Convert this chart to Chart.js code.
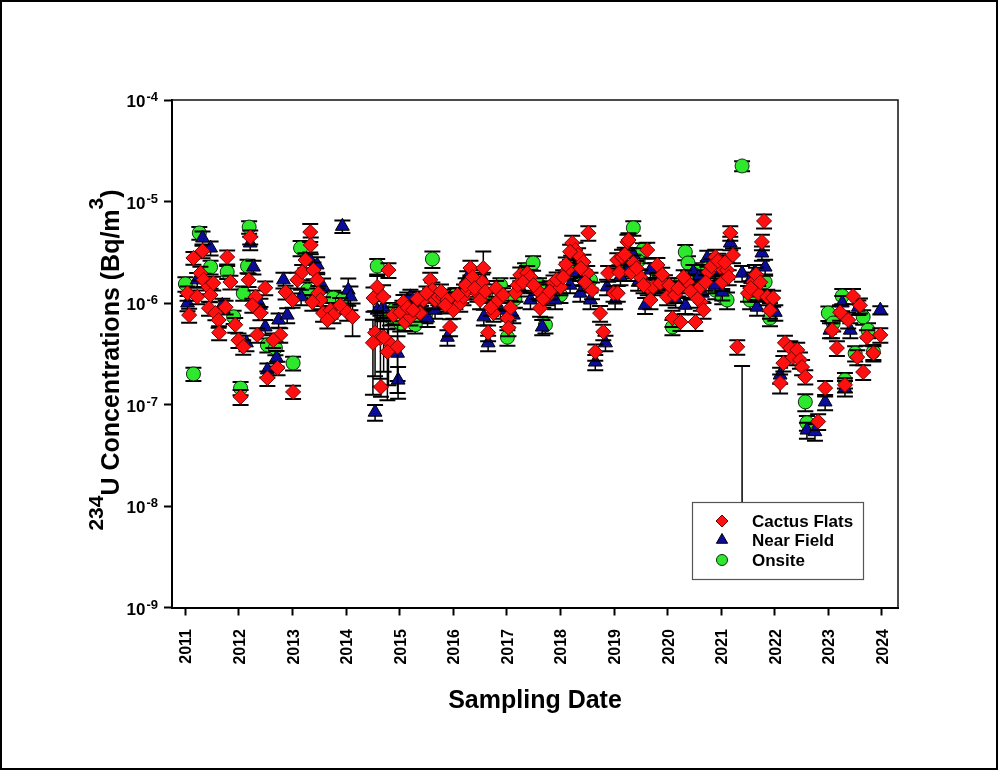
<!DOCTYPE html>
<html>
<head>
<meta charset="utf-8">
<script src="https://cdn.jsdelivr.net/npm/chart.js@4.4.0/dist/chart.umd.min.js"></script>
<style>
  html, body { margin: 0; padding: 0; background: #fff; }
  canvas { display: block; }
</style>
</head>
<body>
<canvas id="uChart" width="999" height="771"></canvas>
<script>
// tick values
const yearTicks = [2011, 2012, 2013, 2014, 2015, 2016, 2017, 2018, 2019, 2020, 2021, 2022, 2023, 2024];
const powerTicks = [1e-9, 1e-8, 1e-7, 1e-6, 1e-5, 1e-4];

// Cactus Flats (red diamonds)
const cactusDates = [
  2011.04, 2011.07, 2011.15, 2011.22, 2011.28, 2011.32, 2011.34, 2011.43, 2011.44, 2011.47,
  2011.52, 2011.56, 2011.62, 2011.63, 2011.75, 2011.78, 2011.84, 2011.93, 2011.99, 2012.08, 2012.03,
  2012.21, 2012.18, 2012.31, 2012.25, 2012.40, 2012.34, 2012.49, 2012.53, 2012.72, 2012.77, 2012.64, 2012.87, 2013.00, 2013.01,
  2013.09, 2013.33, 2013.34, 2013.24, 2013.18, 2013.39, 2013.46, 2013.48, 2013.52, 2013.37, 2013.57, 2013.71, 2013.89, 2014.02, 2014.12, 2013.76, 2013.65,
  2014.51, 2014.58, 2014.69, 2014.54, 2014.64, 2014.79, 2014.96, 2014.50, 2014.65, 2014.79, 2014.70, 2014.77,
  2014.88, 2015.01, 2015.10, 2015.20, 2015.07, 2015.38, 2015.44, 2015.57, 2015.61, 2015.66, 2015.72, 2015.81, 2015.89, 2015.94,
  2016.00, 2016.13, 2016.19, 2016.26, 2016.32, 2016.45, 2016.50, 2016.56, 2016.54, 2016.65, 2016.75, 2016.84,
  2017.01, 2017.03, 2017.16, 2017.25, 2017.38, 2017.44, 2017.57, 2017.62, 2017.75, 2017.87,
  2018.00, 2018.13, 2018.22, 2018.28, 2018.33, 2018.43, 2018.50, 2018.52, 2018.59, 2018.74, 2018.80, 2018.65,
  2018.89, 2018.99, 2019.06, 2019.15, 2019.25, 2019.27, 2019.36, 2019.49, 2019.62, 2019.63, 2019.68, 2019.73, 2019.81, 2019.86, 2019.07,
  2019.99, 2020.09, 2020.24, 2020.37, 2020.52, 2020.61, 2020.62, 2020.67, 2020.76, 2020.89, 2020.98,
  2021.02, 2021.11, 2021.17, 2021.22, 2021.30, 2021.39, 2021.50, 2021.60, 2021.69, 2021.76, 2021.80, 2021.86, 2021.97, 2021.91,
  2022.10, 2022.16, 2022.19, 2022.29, 2022.34, 2022.42, 2022.47, 2022.51, 2022.57, 2022.81, 2022.94,
  2023.31, 2023.07, 2023.16, 2023.22, 2023.37, 2023.46, 2023.59, 2023.72, 2023.54, 2023.65, 2023.84, 2023.97,
  2015.15, 2015.25, 2015.33, 2015.50, 2015.77, 2015.85, 2016.08, 2016.23, 2016.36, 2016.40, 2016.60, 2016.70, 2016.80, 2016.93,
  2017.07, 2017.20, 2017.30, 2017.50, 2017.68, 2017.80, 2017.93, 2018.05, 2018.10, 2018.18, 2018.38, 2018.46,
  2019.10, 2019.20, 2019.32, 2019.42, 2019.55, 2019.90, 2020.03, 2020.14, 2020.20, 2020.30, 2020.43, 2020.56, 2020.71, 2020.82, 2020.94, 2021.07, 2021.14, 2021.55, 2021.65, 2021.73
];
const cactusValues = [
  1.25e-6, 7.6e-7, 2.78e-6, 1.15e-6, 1.97e-6, 3.26e-6, 1.69e-6, 1.44e-6, 8.9e-7, 1.2e-6,
  1.57e-6, 7.95e-7, 6.8e-7, 5.1e-7, 9.1e-7, 2.84e-6, 1.61e-6, 6.1e-7, 4.3e-7, 3.7e-7, 1.19e-7,
  4.47e-6, 1.69e-6, 1.15e-6, 9.5e-7, 7.95e-7, 4.85e-7, 1.41e-6, 1.82e-7, 2.29e-7, 4.85e-7, 4.3e-7, 1.28e-6, 1.07e-6, 1.33e-7,
  1.69e-6, 5.0e-6, 3.73e-6, 2.65e-6, 2.02e-6, 2.11e-6, 1.69e-6, 1.25e-6, 1.07e-6, 1.02e-6, 7.95e-7, 8.5e-7, 9.5e-7, 8.1e-7, 7.3e-7, 7.6e-7, 6.8e-7,
  1.12e-6, 1.44e-6, 1.15e-6, 5.1e-7, 4.5e-7, 4.15e-7, 3.7e-7, 4.05e-7, 1.49e-7, 2.11e-6, 4.6e-7, 3.3e-7,
  7.6e-7, 8.1e-7, 6.5e-7, 7.3e-7, 1.02e-6, 7.95e-7, 1.07e-6, 1.69e-6, 1.34e-6, 1.07e-6, 1.15e-6, 1.15e-6, 1.07e-6, 5.8e-7,
  8.5e-7, 1.0e-6, 1.15e-6, 1.34e-6, 2.21e-6, 1.25e-6, 1.07e-6, 2.21e-6, 1.61e-6, 5.1e-7, 7.95e-7, 1.07e-6,
  7.1e-7, 5.7e-7, 1.25e-6, 1.89e-6, 1.97e-6, 1.8e-6, 1.34e-6, 8.9e-7, 1.15e-6, 1.57e-6,
  1.44e-6, 2.11e-6, 3.9e-6, 3.33e-6, 2.97e-6, 2.53e-6, 1.97e-6, 4.9e-6, 1.34e-6, 7.95e-7, 5.2e-7, 3.3e-7,
  1.97e-6, 1.25e-6, 2.65e-6, 2.84e-6, 4.0e-6, 4.18e-6, 2.48e-6, 1.8e-6, 3.33e-6, 1.44e-6, 1.07e-6, 1.44e-6, 2.37e-6, 1.57e-6, 1.25e-6,
  1.15e-6, 7.1e-7, 6.5e-7, 1.61e-6, 6.5e-7, 1.44e-6, 1.02e-6, 8.5e-7, 2.02e-6, 2.84e-6, 2.26e-6,
  1.61e-6, 2.11e-6, 4.9e-6, 2.97e-6, 3.7e-7, 4.6e-9, 1.25e-6, 1.61e-6, 1.25e-6, 4.0e-6, 6.43e-6, 1.15e-6, 1.12e-6, 8.5e-7,
  1.63e-7, 2.56e-7, 4.05e-7, 3.6e-7, 2.93e-7, 3.45e-7, 2.75e-7, 2.34e-7, 1.87e-7, 6.8e-8, 1.45e-7,
  1.56e-7, 5.4e-7, 3.6e-7, 8.1e-7, 6.8e-7, 1.17e-6, 9.5e-7, 4.6e-7, 2.93e-7, 2.09e-7, 3.2e-7, 4.85e-7,
  9.0e-7, 8.5e-7, 1.1e-6, 1.25e-6, 1.3e-6, 9.5e-7, 1.2e-6, 1.5e-6, 1.8e-6, 1.4e-6, 1.3e-6, 9.0e-7, 1.4e-6, 1.2e-6,
  9.0e-7, 1.5e-6, 1.6e-6, 1.5e-6, 1.1e-6, 1.3e-6, 1.7e-6, 1.8e-6, 2.4e-6, 3.2e-6, 2.2e-6, 1.6e-6,
  2.0e-6, 3.0e-6, 2.0e-6, 2.2e-6, 1.5e-6, 1.9e-6, 1.5e-6, 1.2e-6, 1.4e-6, 1.8e-6, 1.3e-6, 1.1e-6, 1.6e-6, 2.3e-6, 2.6e-6, 2.5e-6, 1.8e-6, 1.4e-6, 1.9e-6, 1.6e-6
];
const cactusErrors = [
  0.2e-6, 1.2e-7, 0.4e-6, 0.18e-6, 0.3e-6, 0.5e-6, 0.25e-6, 0.22e-6, 1.4e-7, 0.18e-6,
  0.24e-6, 1.2e-7, 1.1e-7, 0.8e-7, 1.4e-7, 0.45e-6, 0.25e-6, 1.0e-7, 0.7e-7, 0.6e-7, 0.2e-7,
  0.7e-6, 0.25e-6, 0.18e-6, 1.5e-7, 1.2e-7, 0.8e-7, 0.22e-6, 0.3e-7, 0.35e-7, 0.8e-7, 0.7e-7, 0.2e-6, 0.17e-6, 0.2e-7,
  0.3e-6, 1.0e-6, 0.7e-6, 0.45e-6, 0.35e-6, 0.4e-6, 0.3e-6, 0.22e-6, 0.2e-6, 0.18e-6, 1.4e-7, 1.5e-7, 1.7e-7, 1.4e-7, 2.6e-7, 1.3e-7, 1.2e-7,
  0.3e-6, 0.4e-6, 0.35e-6, 3.2e-7, 3.0e-7, 2.6e-7, 2.4e-7, 2.8e-7, 0.3e-7, 0.35e-6, 2.5e-7, 2.2e-7,
  1.5e-7, 1.5e-7, 1.2e-7, 1.3e-7, 0.18e-6, 1.4e-7, 0.2e-6, 0.3e-6, 0.25e-6, 0.2e-6, 0.2e-6, 0.2e-6, 0.2e-6, 1.1e-7,
  1.5e-7, 0.18e-6, 0.2e-6, 0.25e-6, 0.4e-6, 0.22e-6, 0.2e-6, 1.0e-6, 0.3e-6, 0.9e-7, 1.4e-7, 0.2e-6,
  1.3e-7, 1.0e-7, 0.22e-6, 0.35e-6, 0.35e-6, 0.3e-6, 0.25e-6, 1.6e-7, 0.2e-6, 0.3e-6,
  0.25e-6, 0.4e-6, 0.7e-6, 0.6e-6, 0.5e-6, 0.45e-6, 0.35e-6, 0.8e-6, 0.25e-6, 1.4e-7, 0.9e-7, 0.6e-7,
  0.35e-6, 0.22e-6, 0.45e-6, 0.5e-6, 0.7e-6, 0.7e-6, 0.45e-6, 0.3e-6, 0.6e-6, 0.25e-6, 0.2e-6, 0.25e-6, 0.4e-6, 0.3e-6, 0.22e-6,
  0.2e-6, 1.3e-7, 1.2e-7, 0.3e-6, 1.2e-7, 0.25e-6, 0.18e-6, 1.5e-7, 0.35e-6, 0.5e-6, 0.4e-6,
  0.3e-6, 0.4e-6, 0.8e-6, 0.5e-6, 0.6e-7, 2.35e-7, 0.22e-6, 0.3e-6, 0.22e-6, 0.7e-6, 1.0e-6, 0.2e-6, 0.2e-6, 1.5e-7,
  0.35e-7, 0.45e-7, 0.7e-7, 0.6e-7, 0.5e-7, 0.6e-7, 0.5e-7, 0.4e-7, 0.3e-7, 1.2e-8, 0.25e-7,
  0.25e-7, 0.9e-7, 0.6e-7, 1.4e-7, 1.2e-7, 0.2e-6, 1.6e-7, 0.8e-7, 0.5e-7, 0.35e-7, 0.55e-7, 0.8e-7,
  1.5e-7, 1.4e-7, 0.2e-6, 0.2e-6, 0.22e-6, 1.6e-7, 0.2e-6, 0.25e-6, 0.3e-6, 0.25e-6, 0.22e-6, 1.5e-7, 0.25e-6, 0.2e-6,
  1.5e-7, 0.25e-6, 0.28e-6, 0.25e-6, 0.2e-6, 0.22e-6, 0.3e-6, 0.3e-6, 0.4e-6, 0.55e-6, 0.4e-6, 0.28e-6,
  0.35e-6, 0.5e-6, 0.35e-6, 0.4e-6, 0.25e-6, 0.33e-6, 0.25e-6, 0.2e-6, 0.24e-6, 0.3e-6, 0.22e-6, 0.2e-6, 0.28e-6, 0.4e-6, 0.45e-6, 0.42e-6, 0.3e-6, 0.24e-6, 0.33e-6, 0.28e-6
];

// Near Field (blue triangles)
const nearDates = [
  2011.04, 2011.22, 2011.32, 2011.47, 2011.69, 2012.14,
  2012.21, 2012.27, 2012.40, 2012.49, 2012.53, 2012.70, 2012.74, 2012.83, 2012.90,
  2013.16, 2013.33, 2013.46, 2013.57, 2013.93, 2014.04, 2014.08,
  2014.58, 2014.54, 2014.96, 2014.97, 2014.69,
  2015.14, 2015.20, 2015.52, 2015.66, 2015.89, 2016.04,
  2016.26, 2016.56, 2016.57, 2016.65, 2016.88,
  2017.12, 2017.44, 2017.66, 2017.90,
  2018.18, 2018.37, 2018.56, 2018.65, 2018.84, 2018.87,
  2019.02, 2019.12, 2019.36, 2019.58, 2019.68,
  2020.05, 2020.33, 2020.48, 2020.65, 2020.74, 2020.89,
  2021.02, 2021.17, 2021.39, 2021.63, 2021.67, 2021.76, 2021.82, 2022.01,
  2022.10, 2022.60, 2022.75, 2022.94,
  2023.03, 2023.26, 2023.31, 2023.41, 2023.56, 2023.97,
  2015.05, 2015.40, 2015.75, 2016.15, 2016.45, 2017.25, 2017.55, 2017.80, 2018.28, 2018.45, 2019.25, 2019.45, 2019.85, 2020.15, 2020.58, 2020.98, 2021.55
];
const nearValues = [
  1.0e-6, 1.69e-6, 4.37e-6, 3.48e-6, 9.5e-7, 4.05e-7,
  3.9e-6, 2.26e-6, 9.5e-7, 5.8e-7, 2.19e-7, 2.87e-7, 6.8e-7, 1.69e-6, 7.6e-7,
  1.15e-6, 2.65e-6, 2.37e-6, 1.44e-6, 5.7e-6, 1.34e-6, 1.15e-6,
  8.5e-7, 8.4e-8, 3.2e-7, 1.74e-7, 9.1e-7,
  1.07e-6, 1.15e-6, 7.1e-7, 8.5e-7, 4.6e-7, 1.07e-6,
  1.76e-6, 1.69e-6, 7.3e-7, 4.05e-7, 8.5e-7,
  7.6e-7, 1.07e-6, 5.8e-7, 1.07e-6,
  1.5e-6, 1.25e-6, 1.07e-6, 2.62e-7, 4.05e-7, 1.44e-6,
  1.07e-6, 1.8e-6, 2.97e-6, 9.5e-7, 2.11e-6,
  1.34e-6, 9.5e-7, 2.02e-6, 1.25e-6, 2.78e-6, 1.5e-6,
  1.28e-6, 3.9e-6, 1.97e-6, 2.02e-6, 9.1e-7, 3.11e-6, 2.26e-6, 8.1e-7,
  1.95e-7, 5.6e-8, 5.4e-8, 1.06e-7,
  5.4e-7, 1.0e-6, 1.45e-7, 5.4e-7, 9.1e-7, 8.5e-7,
  9.0e-7, 1.0e-6, 1.1e-6, 1.2e-6, 1.5e-6, 1.4e-6, 1.3e-6, 1.4e-6, 2.0e-6, 1.8e-6, 2.2e-6, 1.6e-6, 1.5e-6, 1.1e-6, 1.8e-6, 2.0e-6, 1.7e-6
];
const nearErrors = [
  0.17e-6, 0.28e-6, 0.7e-6, 0.55e-6, 1.5e-7, 0.7e-7,
  0.6e-6, 0.35e-6, 1.5e-7, 1.0e-7, 0.35e-7, 0.5e-7, 1.1e-7, 0.3e-6, 1.3e-7,
  0.2e-6, 0.5e-6, 0.45e-6, 0.3e-6, 0.8e-6, 0.4e-6, 0.3e-6,
  3.0e-7, 1.5e-8, 1.5e-7, 0.6e-7, 2.5e-7,
  0.2e-6, 0.2e-6, 1.3e-7, 1.5e-7, 0.8e-7, 0.2e-6,
  0.3e-6, 0.3e-6, 1.3e-7, 0.7e-7, 1.5e-7,
  1.3e-7, 0.2e-6, 1.0e-7, 0.2e-6,
  0.25e-6, 0.22e-6, 0.2e-6, 0.45e-7, 0.7e-7, 0.25e-6,
  0.2e-6, 0.3e-6, 0.5e-6, 1.7e-7, 0.35e-6,
  0.25e-6, 1.7e-7, 0.35e-6, 0.22e-6, 0.5e-6, 0.25e-6,
  0.22e-6, 0.6e-6, 0.35e-6, 0.35e-6, 1.6e-7, 0.5e-6, 0.4e-6, 1.4e-7,
  0.35e-7, 1.0e-8, 1.0e-8, 0.18e-7,
  0.9e-7, 0.17e-6, 0.25e-7, 0.9e-7, 1.5e-7, 0.8e-7,
  1.5e-7, 0.17e-6, 0.2e-6, 0.2e-6, 0.25e-6, 0.24e-6, 0.22e-6, 0.24e-6, 0.35e-6, 0.3e-6, 0.38e-6, 0.28e-6, 0.25e-6, 0.2e-6, 0.3e-6, 0.35e-6, 0.3e-6
];

// Onsite (green circles)
const onsiteDates = [
  2011.00, 2011.15, 2011.26, 2011.47, 2011.78, 2011.90,
  2012.03, 2012.08, 2012.16, 2012.19, 2012.53, 2012.68, 2013.01,
  2013.15, 2013.28, 2013.76, 2013.93,
  2014.58, 2014.82, 2014.88, 2014.96, 2015.01,
  2015.29, 2015.48, 2015.61, 2016.04, 2016.32, 2016.88,
  2017.01, 2017.34, 2017.49, 2017.72, 2018.00, 2018.56,
  2019.36, 2019.54, 2019.77, 2020.09, 2020.33, 2020.38, 2020.61, 2020.89,
  2021.02, 2021.11, 2021.39, 2021.54, 2021.82, 2021.91,
  2022.57, 2022.60, 2023.00, 2023.09, 2023.26, 2023.31, 2023.50, 2023.65, 2023.74, 2023.84,
  2015.15, 2015.40, 2015.85, 2016.20, 2016.60, 2017.15, 2017.60, 2017.85, 2018.20, 2018.40, 2019.15, 2019.45, 2019.95, 2020.20, 2020.50, 2020.75
];
const onsiteValues = [
  1.54e-6, 2.0e-7, 4.9e-6, 2.26e-6, 2.02e-6, 7.3e-7,
  1.45e-7, 1.25e-6, 2.31e-6, 5.6e-6, 3.86e-7, 3.6e-7, 2.56e-7,
  3.48e-6, 1.34e-6, 1.12e-6, 1.07e-6,
  2.31e-6, 7.3e-7, 8.5e-7, 6.8e-7, 6.35e-7,
  6.1e-7, 7.6e-7, 2.71e-6, 1.2e-6, 1.57e-6, 1.5e-6,
  4.6e-7, 2.11e-6, 2.48e-6, 6.1e-7, 1.2e-6, 1.69e-6,
  5.5e-6, 3.33e-6, 2.11e-6, 5.8e-7, 3.18e-6, 2.48e-6, 2.11e-6, 1.34e-6,
  1.17e-6, 1.07e-6, 2.24e-5, 1.07e-6, 1.61e-6, 7.1e-7,
  1.06e-7, 6.6e-8, 7.95e-7, 6.35e-7, 1.17e-6, 1.74e-7, 3.2e-7, 7.3e-7, 5.4e-7, 3.3e-7,
  7.5e-7, 8.0e-7, 1.0e-6, 1.3e-6, 1.2e-6, 1.1e-6, 1.5e-6, 1.2e-6, 2.5e-6, 1.8e-6, 2.1e-6, 2.6e-6, 1.6e-6, 1.5e-6, 1.9e-6, 2.2e-6
];
const onsiteErrors = [
  0.25e-6, 0.3e-7, 0.7e-6, 0.35e-6, 0.3e-6, 1.1e-7,
  0.22e-7, 0.2e-6, 0.35e-6, 0.8e-6, 0.6e-7, 0.55e-7, 0.4e-7,
  0.6e-6, 0.25e-6, 0.2e-6, 0.2e-6,
  0.4e-6, 1.3e-7, 1.5e-7, 1.2e-7, 1.1e-7,
  1.1e-7, 1.3e-7, 0.5e-6, 0.2e-6, 0.3e-6, 0.25e-6,
  0.8e-7, 0.35e-6, 0.4e-6, 1.1e-7, 0.2e-6, 0.3e-6,
  0.9e-6, 0.55e-6, 0.35e-6, 1.0e-7, 0.55e-6, 0.4e-6, 0.35e-6, 0.25e-6,
  0.2e-6, 0.2e-6, 0.25e-5, 0.2e-6, 0.3e-6, 1.2e-7,
  0.2e-7, 1.1e-8, 1.3e-7, 1.1e-7, 0.2e-6, 0.3e-7, 0.55e-7, 1.2e-7, 0.9e-7, 0.55e-7,
  1.3e-7, 1.4e-7, 0.18e-6, 0.22e-6, 0.2e-6, 0.2e-6, 0.25e-6, 0.2e-6, 0.42e-6, 0.3e-6, 0.36e-6, 0.45e-6, 0.28e-6, 0.25e-6, 0.32e-6, 0.38e-6
];

const FONT = 'Arial, "Liberation Sans", sans-serif';

function toPoints(dates, values) {
    return dates.map((d, i) => ({x: d, y: values[i]}));
}

// vertical error bars with caps, drawn just before each series' markers
const errorBars = {
    id: 'errorBars',
    beforeDatasetDraw(chart, args) {
        const ds = chart.data.datasets[args.index];
        if (!ds.errors) return;
        const ctx = chart.ctx;
        const xs = chart.scales.x, ys = chart.scales.y;
        const area = chart.chartArea;
        ctx.save();
        ctx.beginPath();
        ctx.rect(area.left, area.top, area.right - area.left, area.bottom - area.top);
        ctx.clip();
        ctx.strokeStyle = '#000';
        ds.data.forEach((p, i) => {
            const e = ds.errors[i];
            const x = xs.getPixelForValue(p.x);
            const yTop = ys.getPixelForValue(p.y + e);
            const low = p.y - e;
            // lower bar only when it stays positive on the log axis
            const yBot = low > 0 ? ys.getPixelForValue(low) : ys.getPixelForValue(p.y);
            ctx.lineWidth = 1.5;
            ctx.beginPath();
            ctx.moveTo(x, yTop);
            ctx.lineTo(x, yBot);
            ctx.stroke();
            ctx.lineWidth = 2;
            ctx.beginPath();
            ctx.moveTo(x - 8, yTop);
            ctx.lineTo(x + 8, yTop);
            if (low > 0) {
                ctx.moveTo(x - 8, yBot);
                ctx.lineTo(x + 8, yBot);
            }
            ctx.stroke();
        });
        ctx.restore();
    }
};

// axis labels, titles, plot box, legend and outer frame
const decorations = {
    id: 'decorations',
    afterDraw(chart) {
        const ctx = chart.ctx;
        const area = chart.chartArea;
        const xs = chart.scales.x, ys = chart.scales.y;
        ctx.save();

        // top and right sides of the plot box
        ctx.strokeStyle = '#111';
        ctx.lineWidth = 1.5;
        ctx.beginPath();
        ctx.moveTo(area.left, area.top);
        ctx.lineTo(area.right, area.top);
        ctx.lineTo(area.right, area.bottom);
        ctx.stroke();

        // y tick labels: 10 with superscript exponent
        ctx.fillStyle = '#000';
        ctx.textAlign = 'left';
        ctx.textBaseline = 'alphabetic';
        ys.ticks.forEach(t => {
            const y = ys.getPixelForValue(t.value);
            const expo = String(Math.round(Math.log10(t.value)));
            ctx.font = 'bold 13px ' + FONT;
            const wSup = ctx.measureText(expo).width;
            ctx.font = 'bold 17px ' + FONT;
            const wBase = ctx.measureText('10').width;
            const right = 158;
            ctx.fillText('10', right - wSup - wBase - 1, y + 7);
            ctx.font = 'bold 13px ' + FONT;
            ctx.fillText(expo, right - wSup, y + 1);
        });

        // x tick labels, rotated
        ctx.font = 'bold 16px ' + FONT;
        ctx.textAlign = 'right';
        xs.ticks.forEach(t => {
            const x = xs.getPixelForValue(t.value);
            ctx.save();
            ctx.translate(x + 6, 629);
            ctx.rotate(-Math.PI / 2);
            ctx.fillText(String(t.value), 0, 0);
            ctx.restore();
        });

        // x axis title
        ctx.font = 'bold 25px ' + FONT;
        ctx.textAlign = 'center';
        ctx.fillText('Sampling Date', 535, 708);

        // y axis title with superscripts
        const parts = [
            {t: '234', sup: true},
            {t: 'U Concentrations (Bq/m', sup: false},
            {t: '3', sup: true},
            {t: ')', sup: false}
        ];
        const mainFont = 'bold 25px ' + FONT, supFont = 'bold 21px ' + FONT;
        let total = 0;
        parts.forEach(p => {
            ctx.font = p.sup ? supFont : mainFont;
            p.w = ctx.measureText(p.t).width;
            total += p.w;
        });
        ctx.save();
        ctx.translate(119, 360);
        ctx.rotate(-Math.PI / 2);
        ctx.textAlign = 'left';
        let cx = -total / 2;
        parts.forEach(p => {
            ctx.font = p.sup ? supFont : mainFont;
            ctx.fillText(p.t, cx, p.sup ? -16 : 0);
            cx += p.w;
        });
        ctx.restore();

        // legend
        const lx = 692, ly = 502, lw = 171, lh = 77;
        ctx.fillStyle = '#fff';
        ctx.fillRect(lx, ly, lw, lh);
        ctx.strokeStyle = '#555';
        ctx.lineWidth = 1.2;
        ctx.strokeRect(lx + 0.5, ly + 0.5, lw, lh);
        const rows = [521, 540, 560];
        chart.data.datasets.forEach((ds, i) => {
            ctx.fillStyle = ds.backgroundColor;
            ctx.strokeStyle = ds.borderColor;
            ctx.lineWidth = 1;
            Chart.helpers.drawPoint(ctx, {
                pointStyle: ds.pointStyle,
                radius: ds.pointRadius - 1.5,
                rotation: 0,
                borderWidth: 1
            }, 722, rows[i]);
            ctx.fillStyle = '#000';
            ctx.font = 'bold 17px ' + FONT;
            ctx.textAlign = 'left';
            ctx.fillText(ds.label, 752, rows[i] + 6);
        });

        // outer frame
        ctx.strokeStyle = '#000';
        ctx.lineWidth = 2;
        ctx.strokeRect(1, 1, 996, 768);
        ctx.restore();
    }
};

const ctx = document.getElementById('uChart').getContext('2d');
new Chart(ctx, {
    type: 'scatter',
    data: {
        datasets: [
            {
                label: 'Cactus Flats',
                data: toPoints(cactusDates, cactusValues),
                errors: cactusErrors,
                pointStyle: 'rectRot',
                pointRadius: 7.5,
                backgroundColor: '#ff1010',
                borderColor: '#700000',
                borderWidth: 1,
                order: 0
            },
            {
                label: 'Near Field',
                data: toPoints(nearDates, nearValues),
                errors: nearErrors,
                pointStyle: 'triangle',
                pointRadius: 8,
                backgroundColor: '#0c0c9a',
                borderColor: '#000',
                borderWidth: 1,
                order: 1
            },
            {
                label: 'Onsite',
                data: toPoints(onsiteDates, onsiteValues),
                errors: onsiteErrors,
                pointStyle: 'circle',
                pointRadius: 7,
                backgroundColor: '#2ee82e',
                borderColor: '#0b300b',
                borderWidth: 1,
                order: 2
            }
        ]
    },
    options: {
        responsive: false,
        animation: false,
        events: [],
        layout: { padding: { left: 0, top: 100, right: 101, bottom: 0 } },
        plugins: {
            legend: { display: false },
            tooltip: { enabled: false }
        },
        scales: {
            x: {
                type: 'linear',
                min: 2010.75,
                max: 2024.3,
                bounds: 'data',
                afterBuildTicks: axis => { axis.ticks = yearTicks.map(v => ({value: v})); },
                afterFit: axis => { axis.height = 163.5; },
                ticks: { display: false },
                grid: { display: true, drawOnChartArea: false, drawTicks: true, tickLength: 8, tickColor: '#000', tickWidth: 2 },
                border: { display: true, color: '#000', width: 2 }
            },
            y: {
                type: 'logarithmic',
                min: 1e-9,
                max: 1e-4,
                bounds: 'data',
                afterBuildTicks: axis => { axis.ticks = powerTicks.map(v => ({value: v})); },
                afterFit: axis => { axis.width = 172; },
                ticks: { display: false },
                grid: { display: true, drawOnChartArea: false, drawTicks: true, tickLength: 8, tickColor: '#000', tickWidth: 2 },
                border: { display: true, color: '#000', width: 2 }
            }
        }
    },
    plugins: [errorBars, decorations]
});
</script>
</body>
</html>
